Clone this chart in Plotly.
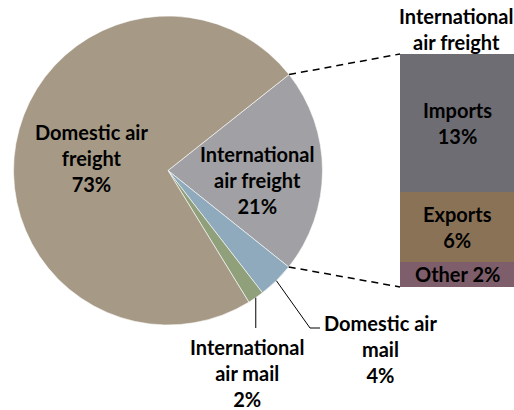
import math
import plotly.graph_objects as go

# ---- data ----
pie_labels = ["International air freight", "Domestic air mail", "International air mail", "Domestic air freight"]
pie_text = ["International<br>air freight", "Domestic air<br>mail", "International<br>air mail", "Domestic air<br>freight"]
pie_values = [21.4, 3.8, 1.7, 73.1]
pie_colors = ["#A1A0A4", "#8FAABC", "#8FA07A", "#A69A87"]

bar_labels = ["Other", "Exports", "Imports"]
bar_values = [2.3, 6.4, 12.7]
bar_colors = ["#7E5E6A", "#8A7257", "#6E6D73"]
bar_title = "International<br>air freight"

# ---- layout geometry (pixels) ----
W, H = 514, 410
CX, CY, R = 168, 170.5, 154.5
ROT = 51.6
BAR_X0, BAR_X1, BAR_Y0, BAR_Y1 = 400, 514, 54, 287
FONT = "Lato"
FS = 20


def pp(x, y):
    return x / W, 1 - y / H


def edge(angle_deg, rr=R):
    a = math.radians(angle_deg)
    return CX + rr * math.sin(a), CY - rr * math.cos(a)


total = sum(pie_values)
starts, cum = [], ROT
for v in pie_values:
    starts.append(cum)
    cum += v / total * 360

fig = go.Figure()
fig.add_trace(go.Pie(
    labels=pie_labels, values=pie_values, sort=False, direction="clockwise",
    rotation=ROT, textinfo="none", hoverinfo="label+percent",
    marker=dict(colors=pie_colors, line=dict(color="#FFFFFF", width=0.6)),
    domain=dict(x=[(CX - R) / W, (CX + R) / W], y=[1 - (CY + R) / H, 1 - (CY - R) / H]),
    showlegend=False,
))

for lab, v, c in zip(bar_labels, bar_values, bar_colors):
    fig.add_trace(go.Bar(x=[0], y=[v], name=lab, marker=dict(color=c, line=dict(width=0)),
                         width=1, showlegend=False, textposition="none", xaxis="x", yaxis="y"))

ann = []
def add_text(text, x, y, xref="paper", yref="paper"):
    ann.append(dict(text=text, x=x, y=y, xref=xref, yref=yref, showarrow=False,
                    xanchor="center", yanchor="middle",
                    font=dict(family=FONT, size=FS, color="#000000")))

# pie labels
pct = [f"{round(v / total * 100)}%" for v in pie_values]
pie_label_pos = [(257, 180), (380, 349), (247, 373), (91, 158)]
for t, p, (lx, ly) in zip(pie_text, pct, pie_label_pos):
    x, y = pp(lx, ly)
    add_text(f"<b>{t}<br>{p}</b>", x, y)

# bar labels
c0 = 0
for lab, v in zip(bar_labels, bar_values):
    mid = c0 + v / 2
    sep = " " if v < 4 else "<br>"
    add_text(f"<b>{lab}{sep}{round(v)}%</b>", 0, mid, "x", "y")
    c0 += v

tx, ty = pp(456, 29.5)
add_text(f"<b>{bar_title}</b>", tx, ty)

shapes = []
def line(p0, p1, dash="solid", width=1):
    x0, y0 = pp(*p0)
    x1, y1 = pp(*p1)
    shapes.append(dict(type="line", xref="paper", yref="paper", x0=x0, y0=y0, x1=x1, y1=y1,
                       line=dict(color="#000000", width=width, dash=dash)))

# connector lines from the expanded slice to the bar
a_top = starts[0]
a_bot = starts[0] + pie_values[0] / total * 360
line(edge(a_top), (BAR_X0, BAR_Y0), dash="7px,5px", width=1.5)
line(edge(a_bot), (BAR_X0, BAR_Y1), dash="7px,5px", width=1.5)

# leader lines for small slices
mid_dam = starts[1] + pie_values[1] / total * 180
p = edge(mid_dam)
line(p, (310, 328))
line((310, 328), (320, 328))
mid_iam = starts[2] + pie_values[2] / total * 180
p = edge(mid_iam)
line(p, (p[0], 328))

fig.update_layout(
    width=W, height=H, margin=dict(l=0, r=0, t=0, b=0),
    paper_bgcolor="#FFFFFF", plot_bgcolor="rgba(0,0,0,0)",
    barmode="stack", bargap=0,
    xaxis=dict(domain=[BAR_X0 / W, BAR_X1 / W], range=[-0.5, 0.5], visible=False, fixedrange=True),
    yaxis=dict(domain=[1 - BAR_Y1 / H, 1 - BAR_Y0 / H], range=[0, sum(bar_values)], visible=False, fixedrange=True),
    annotations=ann, shapes=shapes,
    font=dict(family=FONT),
)

fig.write_html("out.html", config={"displayModeBar": False},
               post_script="document.body.style.margin='0';document.body.style.overflow='hidden';")
